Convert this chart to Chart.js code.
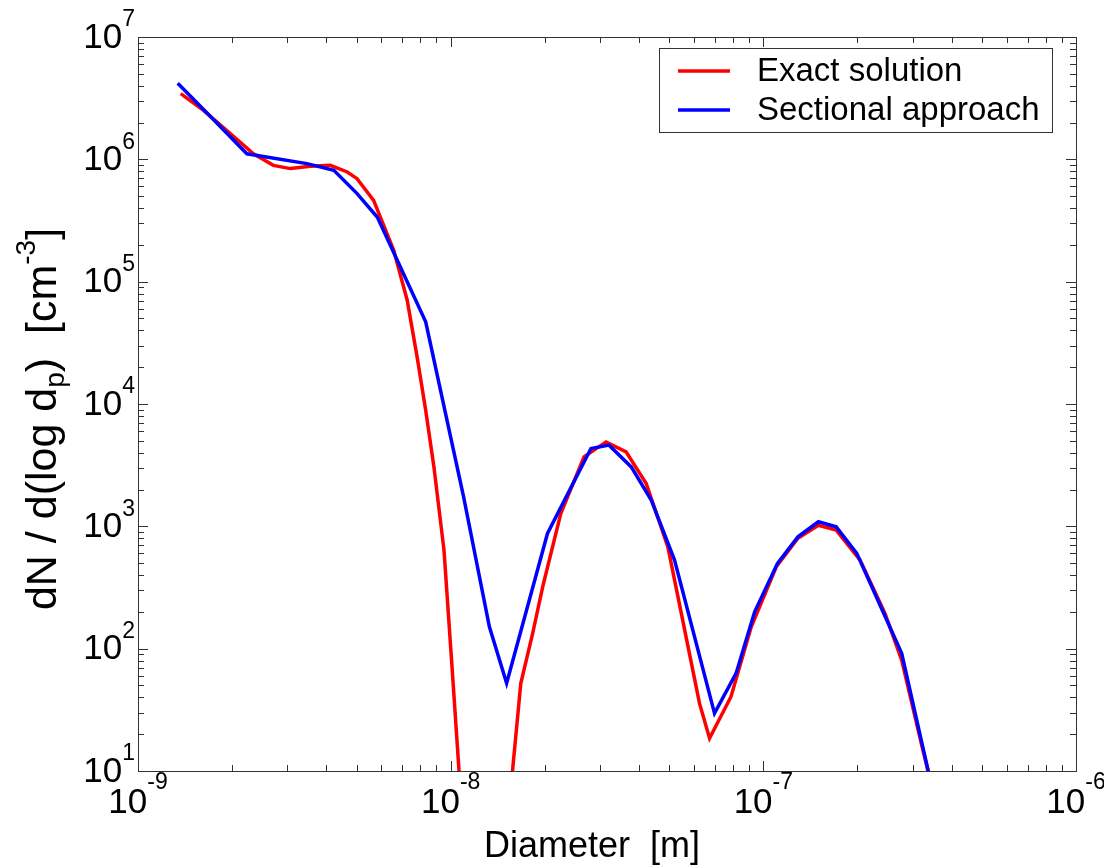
<!DOCTYPE html>
<html>
<head>
<meta charset="utf-8">
<script src="https://cdn.jsdelivr.net/npm/chart.js@4.4.1/dist/chart.umd.min.js"></script>
<style>
  html, body { margin: 0; padding: 0; background: #fff; }
  #wrap { width: 1104px; height: 867px; }
</style>
</head>
<body>
<div id="wrap"><canvas id="psd" width="1104" height="867"></canvas></div>
<script>
// Exact solution (red) - diameter [m] and dN/dlog(dp) [cm^-3]
const exactD = [1.37e-9, 1.62e-9, 1.92e-9, 2.34e-9, 2.71e-9, 3.07e-9, 3.56e-9, 4.12e-9, 4.67e-9, 5.02e-9,
  5.67e-9, 6.57e-9, 7.26e-9, 7.81e-9, 8.32e-9, 8.84e-9, 9.52e-9, 1.01e-8, 1.063e-8, 1.14e-8,
  1.34e-8, 1.50e-8, 1.578e-8, 1.676e-8, 1.83e-8, 1.97e-8, 2.25e-8, 2.67e-8, 3.14e-8, 3.64e-8,
  4.22e-8, 4.95e-8, 6.25e-8, 6.73e-8, 7.88e-8, 9.15e-8, 1.10e-7, 1.29e-7, 1.50e-7, 1.71e-7,
  2.04e-7, 2.45e-7, 2.77e-7, 3.21e-7, 3.73e-7];
const exactN = [3.44e6, 2.51e6, 1.73e6, 1.11e6, 8.93e5, 8.40e5, 8.77e5, 8.93e5, 7.88e5, 6.95e5,
  4.62e5, 1.81e5, 7.05e4, 2.43e4, 8.90e3, 3.06e3, 640, 71.1, 10.2, 0.8,
  0.1, 2, 10.2, 52.1, 134, 321, 1270, 3700, 4900, 4060,
  2240, 680, 35.7, 18.5, 40.5, 151, 467, 800, 1020, 931,
  530, 194, 80.7, 16.3, 3.3];

// Sectional approach (blue)
const sectD = [1.34e-9, 1.73e-9, 2.23e-9, 3.47e-9, 4.23e-9, 5.02e-9, 5.83e-9, 8.32e-9, 1.10e-8, 1.33e-8,
  1.51e-8, 2.04e-8, 2.81e-8, 3.21e-8, 3.78e-8, 4.38e-8, 5.20e-8, 6.98e-8, 8.18e-8, 9.38e-8,
  1.11e-7, 1.29e-7, 1.50e-7, 1.71e-7, 1.99e-7, 2.40e-7, 2.77e-7, 3.21e-7, 3.73e-7];
const sectN = [4.18e6, 2.16e6, 1.11e6, 9.22e5, 8.13e5, 5.25e5, 3.36e5, 4.70e4, 1.74e3, 151,
  52.1, 875, 4330, 4610, 3060, 1640, 530, 29.6, 62.8, 200,
  498, 820, 1090, 991, 601, 207, 91.5, 17.2, 3.2];

const seriesNames = ['Exact solution', 'Sectional approach'];
const xExps = [-9, -8, -7, -6];
const yExps = [1, 2, 3, 4, 5, 6, 7];
const xTitle = 'Diameter  [m]';

const FONT = "'Liberation Sans', Arial, sans-serif";

// decade ticks with minor 2..9 in between
function logTicks(exps) {
  const out = [];
  for (let i = 0; i < exps.length; i++) {
    const e = exps[i];
    out.push({ value: Math.pow(10, e), major: true, exp: e });
    if (i < exps.length - 1) {
      for (let m = 2; m <= 9; m++) out.push({ value: m * Math.pow(10, e), major: false });
    }
  }
  return out;
}
const xTicks = logTicks(xExps);
const yTicks = logTicks(yExps);

const toPts = (xs, ys) => xs.map((v, i) => ({ x: v, y: ys[i] }));

const axesPlugin = {
  id: 'matlabAxes',
  beforeDatasetsDraw(chart) {
    const { ctx, chartArea: a, scales: { x, y } } = chart;
    ctx.save();
    ctx.strokeStyle = '#333';
    ctx.lineWidth = 1;
    ctx.beginPath();
    x.ticks.forEach(t => {
      const px = Math.round(x.getPixelForValue(t.value)) + 0.5;
      const len = t.major ? 10 : 6;
      ctx.moveTo(px, a.bottom); ctx.lineTo(px, a.bottom - len);
      ctx.moveTo(px, a.top); ctx.lineTo(px, a.top + len);
    });
    y.ticks.forEach(t => {
      const py = Math.round(y.getPixelForValue(t.value)) + 0.5;
      const len = t.major ? 10 : 6;
      ctx.moveTo(a.left, py); ctx.lineTo(a.left + len, py);
      ctx.moveTo(a.right, py); ctx.lineTo(a.right - len, py);
    });
    ctx.stroke();
    ctx.strokeRect(Math.round(a.left) + 0.5, Math.round(a.top) + 0.5,
      Math.round(a.right - a.left), Math.round(a.bottom - a.top));
    ctx.restore();
  },
  afterDraw(chart) {
    const { ctx, chartArea: a, scales: { x, y } } = chart;
    ctx.save();
    ctx.fillStyle = '#000';
    ctx.textBaseline = 'middle';
    const big = '35px ' + FONT, small = '23px ' + FONT;

    // y tick labels
    y.ticks.filter(t => t.major).forEach(t => {
      const py = y.getPixelForValue(t.value);
      const ex = String(t.exp);
      ctx.font = small;
      const we = ctx.measureText(ex).width;
      ctx.textAlign = 'left';
      ctx.fillText(ex, 135 - we, py - 17);
      ctx.font = big;
      ctx.textAlign = 'right';
      ctx.fillText('10', 135 - we, py + 1);
    });

    // x tick labels
    x.ticks.filter(t => t.major).forEach(t => {
      const px = x.getPixelForValue(t.value);
      const ex = String(t.exp);
      ctx.font = big;
      const wb = ctx.measureText('10').width;
      ctx.font = small;
      const we = ctx.measureText(ex).width;
      const x0 = px - (wb + we) / 2;
      ctx.textAlign = 'left';
      ctx.font = big;
      ctx.fillText('10', x0, a.bottom + 32);
      ctx.font = small;
      ctx.fillText(ex, x0 + wb, a.bottom + 12);
    });

    // x title
    ctx.font = '36px ' + FONT;
    ctx.textAlign = 'center';
    ctx.fillText(xTitle, 592, 847);

    // y title with sub/superscripts
    const segs = [
      { t: 'dN / d(log d', f: 43, dy: 0 },
      { t: 'p', f: 28, dy: 12 },
      { t: ')  [cm', f: 43, dy: 0 },
      { t: '-3', f: 28, dy: -17 },
      { t: ']', f: 43, dy: 0 }
    ];
    let total = 0;
    segs.forEach(s => { ctx.font = s.f + 'px ' + FONT; s.w = ctx.measureText(s.t).width; total += s.w; });
    ctx.translate(44, 419);
    ctx.rotate(-Math.PI / 2);
    ctx.textAlign = 'left';
    let cx = -total / 2;
    segs.forEach(s => { ctx.font = s.f + 'px ' + FONT; ctx.fillText(s.t, cx, s.dy); cx += s.w; });
    ctx.setTransform(1, 0, 0, 1, 0, 0);

    // legend
    const bx = 659, by = 48, bw = 393, bh = 84;
    ctx.fillStyle = '#fff';
    ctx.fillRect(bx, by, bw, bh);
    ctx.strokeStyle = '#333';
    ctx.lineWidth = 1;
    ctx.strokeRect(bx + 0.5, by + 0.5, bw, bh);
    const rows = [71, 110];
    chart.data.datasets.forEach((ds, i) => {
      ctx.strokeStyle = ds.borderColor;
      ctx.lineWidth = 3.5;
      ctx.beginPath();
      ctx.moveTo(678, rows[i]); ctx.lineTo(730, rows[i]);
      ctx.stroke();
      ctx.fillStyle = '#000';
      ctx.font = '33px ' + FONT;
      ctx.textAlign = 'left';
      ctx.fillText(ds.label, 757, rows[i] + 1);
    });
    ctx.restore();
  }
};

new Chart(document.getElementById('psd'), {
  type: 'line',
  data: {
    datasets: [
      {
        label: seriesNames[0],
        data: toPts(exactD, exactN),
        borderColor: '#ff0000',
        borderWidth: 3.5,
        pointRadius: 0,
        tension: 0,
        order: 1,
        clip: 0
      },
      {
        label: seriesNames[1],
        data: toPts(sectD, sectN),
        borderColor: '#0000ff',
        borderWidth: 3.5,
        pointRadius: 0,
        tension: 0,
        order: 0,
        clip: 0
      }
    ]
  },
  options: {
    responsive: false,
    animation: false,
    devicePixelRatio: 1,
    layout: { padding: { top: 37, right: 28, left: 0, bottom: 0 } },
    plugins: { legend: { display: false }, tooltip: { enabled: false } },
    scales: {
      x: {
        type: 'logarithmic',
        min: 1e-9,
        max: 1e-6,
        grid: { display: false },
        border: { display: false },
        ticks: { display: false },
        afterBuildTicks: s => { s.ticks = xTicks.map(t => ({ ...t })); },
        afterFit: s => { s.height = 96; }
      },
      y: {
        type: 'logarithmic',
        min: 10,
        max: 1e7,
        grid: { display: false },
        border: { display: false },
        ticks: { display: false },
        afterBuildTicks: s => { s.ticks = yTicks.map(t => ({ ...t })); },
        afterFit: s => { s.width = 138; }
      }
    }
  },
  plugins: [axesPlugin]
});
</script>
</body>
</html>
